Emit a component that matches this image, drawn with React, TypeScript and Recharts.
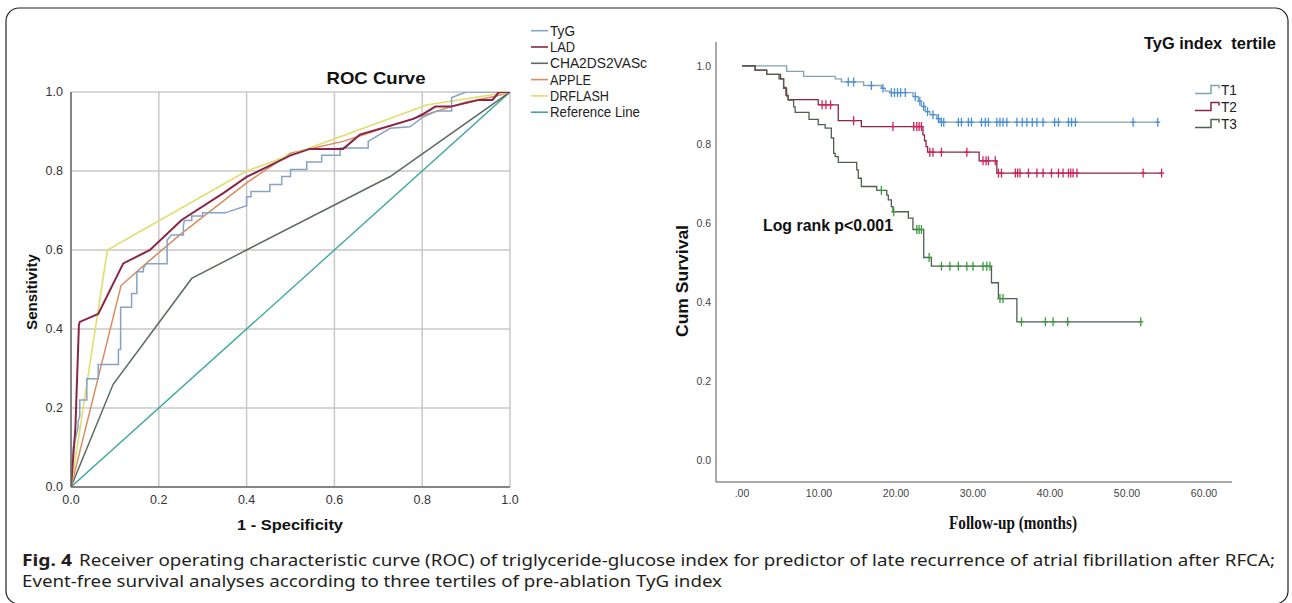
import React from 'react';
import { LineChart, Line, XAxis, YAxis, CartesianGrid, ComposedChart, Scatter } from 'recharts';

// ---------------- ROC data ----------------
const rocTicks = [0, 0.2, 0.4, 0.6, 0.8, 1.0];
const rocReference: [number, number][] = [[0, 0], [1, 1]];
const rocCHA: [number, number][] = [[0, 0], [0.096, 0.26], [0.275, 0.528], [0.4, 0.6], [0.727, 0.786], [1, 1]];
const rocAPPLE: [number, number][] = [[0, 0], [0.114, 0.51], [0.17, 0.565], [0.25, 0.64], [0.4, 0.77], [0.5, 0.845], [0.62, 0.875], [0.8, 0.94], [0.9, 0.975], [0.97, 0.99], [1, 1]];
const rocDRFLASH: [number, number][] = [[0, 0], [0.083, 0.6], [0.4, 0.8], [0.81, 0.967], [1, 1]];
const rocTyG: [number, number][] = [
  [0, 0], [0.005, 0.1], [0.016, 0.15], [0.016, 0.165], [0.02, 0.18], [0.02, 0.22], [0.036, 0.22], [0.036, 0.274],
  [0.062, 0.274], [0.062, 0.31], [0.108, 0.31], [0.108, 0.348], [0.113, 0.348], [0.113, 0.455], [0.138, 0.455],
  [0.138, 0.49], [0.15, 0.49], [0.15, 0.545], [0.165, 0.545], [0.165, 0.555], [0.172, 0.565], [0.219, 0.565],
  [0.219, 0.625], [0.229, 0.638], [0.256, 0.638], [0.256, 0.66], [0.258, 0.675], [0.275, 0.675], [0.275, 0.686],
  [0.3, 0.686], [0.3, 0.694], [0.351, 0.694], [0.4, 0.712], [0.4, 0.735], [0.41, 0.735], [0.41, 0.748],
  [0.453, 0.748], [0.453, 0.766], [0.48, 0.766], [0.48, 0.786], [0.5, 0.786], [0.5, 0.804], [0.537, 0.804],
  [0.537, 0.823], [0.571, 0.823], [0.571, 0.84], [0.613, 0.84], [0.613, 0.858], [0.677, 0.858], [0.677, 0.875],
  [0.727, 0.908], [0.772, 0.912], [0.8, 0.935], [0.833, 0.952], [0.867, 0.952], [0.867, 0.986], [0.9, 1.0], [1, 1],
];
const rocLAD: [number, number][] = [
  [0, 0], [0.01, 0.15], [0.018, 0.41], [0.02, 0.418], [0.062, 0.438], [0.119, 0.566], [0.18, 0.6], [0.252, 0.676],
  [0.347, 0.744], [0.4, 0.785], [0.499, 0.839], [0.544, 0.856], [0.62, 0.856], [0.658, 0.892], [0.78, 0.932],
  [0.8, 0.943], [0.83, 0.963], [0.865, 0.963], [0.93, 0.98], [0.96, 0.98], [0.975, 1.0], [1, 1],
];

const rocSeries = [
  { name: 'TyG', color: '#86a3c6', width: 1.5, pts: rocTyG, legendW: 25 },
  { name: 'LAD', color: '#8b2548', width: 2, pts: rocLAD, legendW: 25 },
  { name: 'CHA2DS2VASc', color: '#5c6b5f', width: 1.5, pts: rocCHA, legendW: 97 },
  { name: 'APPLE', color: '#d98c60', width: 1.5, pts: rocAPPLE, legendW: 41 },
  { name: 'DRFLASH', color: '#dfdf6c', width: 1.6, pts: rocDRFLASH, legendW: 59 },
  { name: 'Reference Line', color: '#3ea99f', width: 1.4, pts: rocReference, legendW: 90 },
];
const rocDrawOrder = ['Reference Line', 'CHA2DS2VASc', 'APPLE', 'DRFLASH', 'TyG', 'LAD'];

// ---------------- Kaplan-Meier data ----------------
const kmTicksX = [0, 10, 20, 30, 40, 50, 60];
const kmTicksY = [0, 0.2, 0.4, 0.6, 0.8, 1.0];

const t1Steps: [number, number][] = [
  [0, 1.0], [5.8, 0.986], [8.0, 0.973], [12.1, 0.967], [12.9, 0.959], [15.8, 0.95], [18.1, 0.943], [18.6, 0.936],
  [19.2, 0.932], [22.2, 0.922], [22.9, 0.91], [23.3, 0.897], [23.8, 0.884], [24.4, 0.876], [25.3, 0.866], [25.7, 0.857],
];
const t1End = 54.1;
const t1Censor = [
  13.8, 14.5, 16.8, 18.3, 19.4, 19.8, 20.2, 20.6, 21.2, 22.5, 23.1, 23.6, 24.1, 24.8, 25.5, 25.9, 26.2, 28.1, 28.5,
  29.4, 29.8, 31.1, 31.6, 32.0, 33.1, 33.5, 33.9, 34.4, 35.7, 36.4, 37.0, 37.7, 38.3, 39.1, 40.6, 41.1, 42.4, 42.8,
  43.3, 50.8, 54.0,
];

const t2Steps: [number, number][] = [
  [0, 1.0], [1.7, 0.989], [3.2, 0.978], [5.0, 0.967], [5.4, 0.945], [5.7, 0.925], [6.0, 0.914], [9.9, 0.901],
  [12.5, 0.861], [15.5, 0.846], [23.5, 0.825], [23.7, 0.81], [23.9, 0.795], [24.1, 0.781], [30.8, 0.759], [33.1, 0.728],
];
const t2End = 54.5;
const t2Censor = [
  10.4, 10.9, 11.5, 14.5, 19.6, 22.3, 22.7, 23.0, 23.3, 24.4, 24.8, 25.9, 29.2, 31.3, 31.7, 32.0, 32.9, 33.3, 33.7,
  35.5, 35.8, 36.1, 37.2, 38.3, 39.1, 40.2, 41.1, 41.7, 42.4, 42.7, 43.0, 43.5, 52.1, 54.5,
];

const t3Steps: [number, number][] = [
  [0, 1.0], [1.7, 0.989], [3.2, 0.978], [4.8, 0.967], [5.4, 0.943], [5.8, 0.923], [6.0, 0.913], [6.7, 0.896],
  [6.9, 0.882], [8.7, 0.864], [9.9, 0.851], [10.8, 0.842], [11.6, 0.817], [11.9, 0.778], [12.1, 0.77], [12.5, 0.755],
  [14.9, 0.736], [15.1, 0.715], [15.5, 0.694], [17.5, 0.684], [18.8, 0.672], [19.0, 0.66], [19.4, 0.643], [19.6, 0.63],
  [21.6, 0.614], [22.2, 0.585], [23.6, 0.514], [24.6, 0.492], [32.4, 0.45], [33.3, 0.41], [35.7, 0.351],
];
const t3End = 51.8;
const t3Censor = [18.1, 19.7, 22.7, 23.0, 23.3, 24.3, 25.9, 27.0, 28.1, 29.2, 30.0, 31.3, 31.8, 32.2, 33.5, 33.9, 36.3, 39.4, 40.4, 42.3, 51.8];

const kmGroups = [
  { name: 'T1', line: '#7fa5b1', mark: '#4a8fd6', steps: t1Steps, end: t1End, censor: t1Censor },
  { name: 'T2', line: '#8a2746', mark: '#d0245a', steps: t2Steps, end: t2End, censor: t2Censor },
  { name: 'T3', line: '#4f5f50', mark: '#3d9a40', steps: t3Steps, end: t3End, censor: t3Censor },
];

// ---------------- helpers ----------------
const toXY = (pts: [number, number][]) => pts.map(([x, y]) => ({ x, y }));
const curveOf = (steps: [number, number][], end: number) => {
  const c = steps.map(([t, s]) => ({ t, s }));
  c.push({ t: end, s: steps[steps.length - 1][1] });
  return c;
};
const survAt = (steps: [number, number][], time: number) => {
  let s = steps[0][1];
  for (const [t, v] of steps) if (t <= time) s = v;
  return s;
};
const censorShape = (color: string) => (props: any) => {
  const { cx, cy } = props;
  if (cx == null || cy == null) return <g />;
  return (
    <g>
      <line x1={cx} x2={cx} y1={cy - 4.5} y2={cy + 4.5} stroke={color} strokeWidth={1.3} />
      <line x1={cx - 2.5} x2={cx + 2.5} y1={cy} y2={cy} stroke={color} strokeWidth={1.3} />
    </g>
  );
};

const SANS = "'Liberation Sans', Arial, sans-serif";
const NARROW = "'Liberation Sans Narrow', 'Liberation Sans', Arial, sans-serif";
const CAPTION = "'Noto Sans', 'Open Sans', sans-serif";

export default function App() {
  return (
    <div style={{ position: 'absolute', left: 0, top: 0, width: 1292, height: 603, background: '#fff', fontFamily: SANS, overflow: 'hidden' }}>
      {/* ROC chart */}
      <div style={{ position: 'absolute', left: 0, top: 0 }}>
        <LineChart width={520} height={540} margin={{ top: 92, right: 10, bottom: 23, left: 41 }}>
          <CartesianGrid stroke="#c8c8c8" strokeWidth={1.5} />
          <XAxis
            type="number" dataKey="x" domain={[0, 1]} ticks={rocTicks} allowDataOverflow
            tickFormatter={(v: number) => v.toFixed(1)} axisLine={{ stroke: '#6a6a6a', strokeWidth: 1.5 }}
            tickLine={false} height={30} tick={{ fontSize: 12.5, fill: '#333' }}
          />
          <YAxis
            type="number" domain={[0, 1]} ticks={rocTicks} allowDataOverflow width={30}
            tickFormatter={(v: number) => v.toFixed(1)} axisLine={{ stroke: '#6a6a6a', strokeWidth: 1.5 }}
            tickLine={false} tick={{ fontSize: 12.5, fill: '#333' }}
          />
          {rocDrawOrder.map((n) => {
            const s = rocSeries.find((r) => r.name === n)!;
            return (
              <Line key={n} data={toXY(s.pts)} dataKey="y" type="linear" stroke={s.color} strokeWidth={s.width}
                dot={false} activeDot={false} isAnimationActive={false} />
            );
          })}
        </LineChart>
      </div>

      {/* Kaplan-Meier chart */}
      <div style={{ position: 'absolute', left: 660, top: 0 }}>
        <ComposedChart width={600} height={540} margin={{ top: 42, right: 28, bottom: 28, left: 16 }}>
          <XAxis
            type="number" dataKey="t" domain={[-3.38, 63.64]} ticks={kmTicksX} allowDataOverflow
            tickFormatter={(v: number) => (v === 0 ? '.00' : v.toFixed(2))} axisLine={{ stroke: '#555' }}
            tickLine={false} height={30} tick={{ fontSize: 10.5, fill: '#444', fontFamily: NARROW }}
          />
          <YAxis
            type="number" domain={[-0.055, 1.0603]} ticks={kmTicksY} allowDataOverflow width={40}
            tickFormatter={(v: number) => v.toFixed(1)} axisLine={{ stroke: '#555' }} tickLine={false}
            tickSize={3} tick={{ fontSize: 10.5, fill: '#444', fontFamily: NARROW }}
          />
          {kmGroups.map((g) => (
            <Line key={g.name + 'l'} data={curveOf(g.steps, g.end)} dataKey="s" type="stepAfter" stroke={g.line}
              strokeWidth={1.3} dot={false} activeDot={false} isAnimationActive={false} />
          ))}
          {kmGroups.map((g) => (
            <Scatter key={g.name + 'c'} data={g.censor.map((t) => ({ t, s: survAt(g.steps, t) }))} dataKey="s"
              shape={censorShape(g.mark)} isAnimationActive={false} />
          ))}
        </ComposedChart>
      </div>

      {/* Overlay texts */}
      <svg width={1292} height={603} style={{ position: 'absolute', left: 0, top: 0, pointerEvents: 'none' }}>
        <rect x={6} y={8} width={1282} height={596} rx={13} ry={13} fill="none" stroke="#222" strokeWidth={1.2} />

        {/* ROC titles */}
        <text x={376} y={78} textAnchor="middle" dominantBaseline="central" fontFamily={SANS} fontWeight="bold" fontSize={17} fill="#111" textLength={99} lengthAdjust="spacingAndGlyphs">ROC Curve</text>
        <text x={31} y={292} textAnchor="middle" dominantBaseline="central" fontFamily={SANS} fontWeight="bold" fontSize={15} fill="#111" transform="rotate(-90 31 292)" textLength={76} lengthAdjust="spacingAndGlyphs">Sensitivity</text>
        <text x={290} y={524} textAnchor="middle" dominantBaseline="central" fontFamily={SANS} fontWeight="bold" fontSize={15} fill="#111" textLength={106} lengthAdjust="spacingAndGlyphs">1 - Specificity</text>

        {/* ROC legend */}
        {rocSeries.map((s, i) => {
          const y = 30.7 + i * 16.3;
          return (
            <g key={s.name}>
              <line x1={531} x2={548} y1={y} y2={y} stroke={s.color} strokeWidth={1.6} />
              <text x={550} y={y} dominantBaseline="central" fontFamily={NARROW} fontSize={14} fill="#222" textLength={s.legendW} lengthAdjust="spacingAndGlyphs">{s.name}</text>
            </g>
          );
        })}

        {/* KM titles */}
        <text x={1210} y={43} textAnchor="middle" dominantBaseline="central" fontFamily={SANS} fontWeight="bold" fontSize={17} fill="#111" textLength={132} lengthAdjust="spacingAndGlyphs" xmlSpace="preserve">TyG index  tertile</text>
        <text x={682} y={281} textAnchor="middle" dominantBaseline="central" fontFamily={SANS} fontWeight="bold" fontSize={16} fill="#111" transform="rotate(-90 682 281)" textLength={112} lengthAdjust="spacingAndGlyphs">Cum Survival</text>
        <text x={1013} y={522} textAnchor="middle" dominantBaseline="central" fontFamily="'Liberation Serif', 'Times New Roman', serif" fontWeight="bold" fontSize={19} fill="#111" textLength={128} lengthAdjust="spacingAndGlyphs">Follow-up (months)</text>
        <text x={828} y={225} textAnchor="middle" dominantBaseline="central" fontFamily={SANS} fontWeight="bold" fontSize={17} fill="#111" textLength={130} lengthAdjust="spacingAndGlyphs">Log rank p&lt;0.001</text>

        {/* KM legend */}
        {kmGroups.map((g, i) => {
          const y = 89.5 + i * 17;
          return (
            <g key={g.name}>
              <path d={`M1195,${y + 4} H1211 V${y - 4} H1219 V${y - 1}`} fill="none" stroke={g.line} strokeWidth={1.5} />
              <text x={1221} y={y} dominantBaseline="central" fontFamily={NARROW} fontSize={14} fill="#222" textLength={16} lengthAdjust="spacingAndGlyphs">{g.name}</text>
            </g>
          );
        })}

        {/* Caption */}
        <text x={22} y={560} dominantBaseline="central" fontFamily={CAPTION} fontWeight="bold" fontSize={15.5} fill="#231f20" textLength={50} lengthAdjust="spacingAndGlyphs">Fig. 4</text>
        <text x={79} y={560} dominantBaseline="central" fontFamily={CAPTION} fontSize={15.5} fill="#231f20" textLength={1196} lengthAdjust="spacingAndGlyphs">Receiver operating characteristic curve (ROC) of triglyceride-glucose index for predictor of late recurrence of atrial fibrillation after RFCA;</text>
        <text x={22} y={581} dominantBaseline="central" fontFamily={CAPTION} fontSize={15.5} fill="#231f20" textLength={700} lengthAdjust="spacingAndGlyphs">Event-free survival analyses according to three tertiles of pre-ablation TyG index</text>
      </svg>
    </div>
  );
}
